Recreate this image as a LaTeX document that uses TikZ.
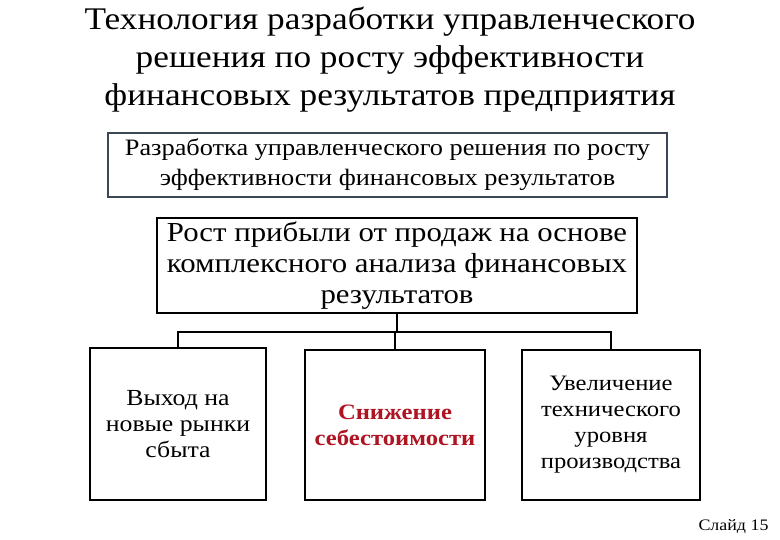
\documentclass[tikz,border=0pt]{standalone}
\usepackage{fontspec}
\setmainfont{Liberation Serif}[FakeStretch=1.12]
\definecolor{bx}{RGB}{60,70,85}
\definecolor{rd}{RGB}{175,20,35}
\begin{document}
\begin{tikzpicture}[x=1pt,y=-1pt,
  box/.style={draw=black,line width=1.6pt,fill=white,inner sep=0pt,align=center},
  conn/.style={line width=1.3pt}]
\useasboundingbox (0,0) rectangle (780,540);
\node[align=center,font=\fontsize{31.5}{38}\selectfont] (title) at (390,60)
  {Технология разработки управленческого\\решения по росту эффективности\\финансовых результатов предприятия};
\node[box,draw=bx,minimum width=559,minimum height=64,font=\fontsize{23.5}{30}\selectfont] (b1) at (387.5,165)
  {Разработка управленческого решения по росту\\эффективности финансовых результатов};
\node[box,minimum width=480,minimum height=95,font=\fontsize{27.5}{31}\selectfont] (b2) at (397,265.5)
  {Рост прибыли от продаж на основе\\комплексного анализа финансовых\\результатов};
\node[box,minimum width=176,minimum height=152,font=\fontsize{23}{26}\selectfont] (b3) at (178,424)
  {Выход на\\новые рынки\\сбыта};
\node[box,minimum width=180,minimum height=150,font=\fontsize{22}{26}\selectfont\bfseries,text=rd] (b4) at (395,425)
  {Снижение\\себестоимости};
\node[box,minimum width=178,minimum height=150,font=\fontsize{22}{26}\selectfont] (b5) at (611,425)
  {Увеличение\\технического\\уровня\\производства};
\coordinate (j) at (397,332);
\draw[conn] (b2.south) -- (j);
\draw[conn] (b3.north) -- (b3.north |- j) -- (b5.north |- j) -- (b5.north);
\draw[conn] (b4.north) -- (b4.north |- j);
\node[font=\fontsize{16}{18}\selectfont,anchor=east] (sl) at (772,527) {Слайд 15};
\end{tikzpicture}
\end{document}
